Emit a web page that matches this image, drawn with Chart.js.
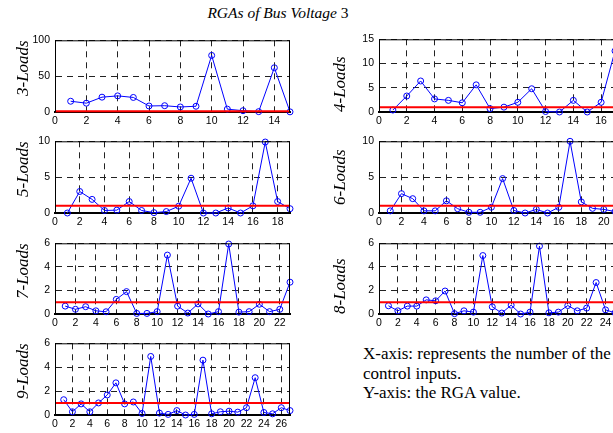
<!DOCTYPE html>
<html>
<head>
<meta charset="utf-8">
<script src="https://cdn.jsdelivr.net/npm/chart.js@4/dist/chart.umd.min.js"></script>
<style>
  html, body { margin:0; padding:0; width:613px; height:433px; overflow:hidden; background:#fff; }
  canvas { position:absolute; }
  #title { position:absolute; left:128px; top:4px; width:300px; text-align:center; font-family:"Liberation Serif", serif; font-style:italic; font-size:15.5px; line-height:18px; color:#000; white-space:nowrap; }
  #title span { font-style:normal; }
  #note { position:absolute; left:363px; top:344px; font-family:"Liberation Serif", serif; font-size:17px; line-height:19.5px; color:#000; white-space:nowrap; }
</style>
</head>
<body>
<div id="title">RGAs of Bus Voltage <span>3</span></div>
<div id="note">X-axis: represents the number of the<br>control inputs.<br>Y-axis: the RGA value.</div>
<script>
// ---- data ----
const loads3 = [15, 12.3, 20.7, 22.5, 20.3, 8.4, 8.8, 7, 8, 78.9, 4, 1.8, 0.5, 61.7, 0.2];
const loads4 = [0.4, 3.3, 6.4, 2.7, 2.4, 1.9, 5.6, 0.7, 1.0, 2.0, 4.8, 0.1, 0.0, 2.4, 0.0, 2.0, 12.6];
const loads5 = [0, 3.0, 1.9, 0.35, 0.4, 1.6, 0.35, 0.05, 0.2, 0.95, 4.85, 0, 0, 0.7, 0, 1.0, 9.9, 1.6, 0.6];
const loads6 = [0.3, 2.7, 2.0, 0.3, 0.3, 1.7, 0.6, 0.1, 0.1, 0.8, 4.8, 0.35, 0, 0.5, 0, 0.8, 10.0, 1.55, 0.65, 0.5, 0.2];
const loads7 = [0.67, 0.4, 0.62, 0.27, 0.19, 1.24, 1.9, 0.05, 0.05, 0.2, 5.0, 0.67, 0.08, 0.86, 0, 0.2, 5.94, 0.16, 0.2, 0.83, 0.2, 0.4, 2.7];
const loads8 = [0.7, 0.27, 0.67, 0.67, 1.2, 1.12, 1.95, 0.03, 0.27, 0.16, 4.96, 0.61, 0.08, 0.75, 0, 0.16, 5.76, 0.1, 0.16, 0.72, 0.27, 0.5, 2.67, 0.35, 0.1];
const loads9 = [1.28, 0.27, 0.93, 0.27, 1.01, 1.68, 2.69, 0.93, 1.09, 0.13, 4.9, 0.16, 0.05, 0.37, 0, 0.05, 4.59, 0.1, 0.27, 0.32, 0.24, 0.61, 3.12, 0.21, 0.1, 0.61, 0.37];
const panelLabels = ["3-Loads", "4-Loads", "5-Loads", "6-Loads", "7-Loads", "8-Loads", "9-Loads"];
const yMaxes = [100, 15, 10, 10, 6, 6, 6];
const yStepSizes = [50, 5, 5, 5, 2, 2, 2];
const xStepSize = 2;
const rgaThreshold = 1;

const series = [loads3, loads4, loads5, loads6, loads7, loads8, loads9];

// ---- layout (plot-area placement in the page) ----
const layout = [
  {L: 55,  T: 37,  W: 235, H: 75, titlePad: 13, align: 'end'},
  {L: 379, T: 36,  W: 236, H: 76, titlePad: 6,  align: 'start'},
  {L: 55,  T: 138, W: 235, H: 75, titlePad: 13, align: 'end'},
  {L: 379, T: 138, W: 236, H: 75, titlePad: 6,  align: 'center'},
  {L: 55,  T: 240, W: 235, H: 74, titlePad: 13, align: 'end'},
  {L: 379, T: 240, W: 236, H: 74, titlePad: 6,  align: 'start'},
  {L: 55,  T: 340, W: 235, H: 75, titlePad: 13, align: 'end'}
];
const AXW = 55, AXH = 22, PADT = 8, PADR = 8;

const boxPlugin = {
  id: 'box',
  afterDatasetsDraw(chart) {
    const a = chart.chartArea, ctx = chart.ctx;
    ctx.save();
    ctx.strokeStyle = '#000';
    ctx.lineWidth = 1;
    ctx.beginPath();
    ctx.moveTo(a.left + 0.5, a.bottom);
    ctx.lineTo(a.left + 0.5, a.top + 0.5);
    ctx.lineTo(a.right - 0.5, a.top + 0.5);
    ctx.lineTo(a.right - 0.5, a.bottom);
    ctx.stroke();
    ctx.restore();
  }
};

const tickFont = {family: '"Liberation Sans", Arial, sans-serif', size: 10.5};

series.forEach((vals, k) => {
  const p = layout[k];
  const n = vals.length;
  const cv = document.createElement('canvas');
  const cw = p.W + AXW + PADR, ch = p.H + PADT + AXH;
  cv.width = cw; cv.height = ch;
  cv.style.width = cw + 'px'; cv.style.height = ch + 'px';
  cv.style.left = (p.L - AXW) + 'px';
  cv.style.top = (p.T - PADT) + 'px';
  document.body.appendChild(cv);

  const pts = vals.map((v, i) => ({x: i + 1, y: v}));
  new Chart(cv, {
    type: 'line',
    data: {
      datasets: [
        {
          data: [{x: 0, y: rgaThreshold}, {x: n, y: rgaThreshold}],
          borderColor: '#ff0000', borderWidth: 2, pointRadius: 0, clip: false
        },
        {
          data: pts,
          borderColor: '#0000ff', borderWidth: 1,
          pointRadius: 3, pointStyle: 'circle',
          pointBorderColor: '#0000ff', pointBackgroundColor: 'rgba(0,0,0,0)', pointBorderWidth: 1,
          clip: false
        }
      ]
    },
    options: {
      responsive: false,
      animation: false,
      events: [],
      layout: {padding: {top: PADT, right: PADR, left: 0, bottom: 0}},
      plugins: {legend: {display: false}, tooltip: {enabled: false}, title: {display: false}},
      scales: {
        x: {
          type: 'linear', min: 0, max: n,
          afterFit(s) { s.height = AXH; },
          ticks: {stepSize: xStepSize, includeBounds: false, autoSkip: false, maxRotation: 0, minRotation: 0,
                  padding: 3, color: '#000', font: tickFont},
          grid: {display: true, drawTicks: false, color: '#222', lineWidth: 1},
          border: {display: true, color: '#000', width: 2, dash: [6, 5]}
        },
        y: {
          type: 'linear', min: 0, max: yMaxes[k],
          afterFit(s) { s.width = AXW; },
          ticks: {stepSize: yStepSizes[k], includeBounds: false, padding: 5, color: '#000', font: tickFont},
          grid: {display: true, drawTicks: false, color: '#222', lineWidth: 1},
          border: {display: true, color: '#000', width: 1, dash: [6, 5]},
          title: {
            display: true, text: panelLabels[k], align: p.align, color: '#000',
            font: {family: '"Liberation Serif", "Times New Roman", serif', style: 'italic', size: 17},
            padding: {top: p.titlePad, bottom: 0}
          }
        }
      }
    },
    plugins: [boxPlugin]
  });
});
</script>
</body>
</html>
